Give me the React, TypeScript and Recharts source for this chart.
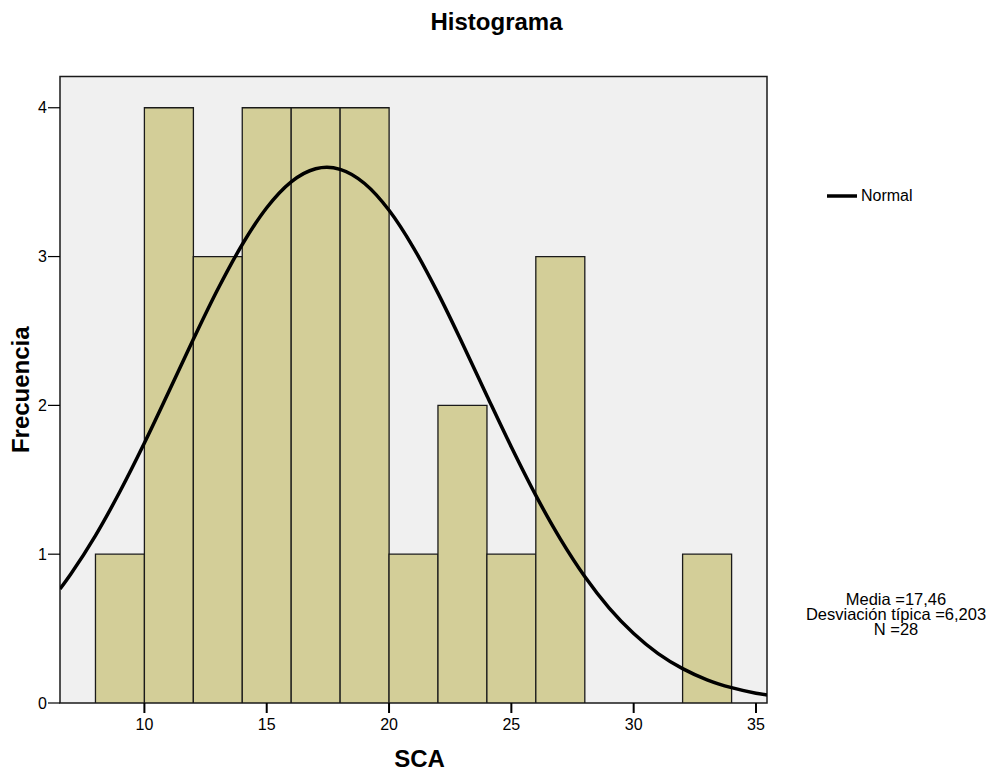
import React from "react";
import {
  ComposedChart,
  Bar,
  Line,
  XAxis,
  YAxis,
  ReferenceArea,
  Legend,
} from "recharts";

// histogram bins (SCA), width 2
const BIN_MIDS = [9, 11, 13, 15, 17, 19, 21, 23, 25, 27, 29, 31, 33];
const COUNTS = [1, 4, 3, 4, 4, 4, 1, 2, 1, 3, 0, 0, 1];

// normal curve
const CURVE_X = [6.55, 7, 8, 9, 10, 11, 12, 13, 14, 15, 16, 17, 17.46, 18, 19, 20, 21, 22, 23, 24, 25, 26, 27, 28, 29, 30, 31, 32, 33, 34, 35, 35.45];
const CURVE_Y = [0.766, 0.869, 1.125, 1.421, 1.747, 2.093, 2.444, 2.78, 3.081, 3.328, 3.502, 3.59, 3.6, 3.586, 3.491, 3.311, 3.059, 2.754, 2.416, 2.065, 1.72, 1.395, 1.103, 0.85, 0.638, 0.467, 0.332, 0.231, 0.156, 0.103, 0.066, 0.054];

const X_TICKS = [10, 15, 20, 25, 30, 35];
const Y_TICKS = [0, 1, 2, 3, 4];
const STATS = ["Media =17,46", "Desviación típica =6,203", "N =28"];

const X_DOMAIN: [number, number] = [6.55, 35.45];
const Y_DOMAIN: [number, number] = [0, 4.21];

const FONT = "'Liberation Sans', Arial, sans-serif";

const bins = BIN_MIDS.map((mid, i) => ({ mid, count: COUNTS[i] }));
const curve = CURVE_X.map((x, i) => ({ x, y: CURVE_Y[i] }));

const renderLegend = () => (
  <div style={{ display: "flex", alignItems: "center", fontFamily: FONT, fontSize: 16, color: "#000" }}>
    <svg width={34} height={6}>
      <line x1={0} y1={3} x2={30} y2={3} stroke="#000" strokeWidth={3.5} />
    </svg>
    <span>Normal</span>
  </div>
);

export default function App() {
  return (
    <div style={{ position: "absolute", left: 0, top: 0, width: 989, height: 771, background: "#fff", fontFamily: FONT }}>
      <div style={{ position: "absolute", left: 0, width: 993, top: 8, textAlign: "center", fontSize: 24, fontWeight: "bold" }}>
        Histograma
      </div>
      <ComposedChart
        width={989}
        height={771}
        data={bins}
        margin={{ top: 76.5, right: 222, bottom: 0, left: 10 }}
        barCategoryGap={0}
        barGap={0}
        style={{ fontFamily: FONT }}
      >
        <ReferenceArea
          x1={X_DOMAIN[0]}
          x2={X_DOMAIN[1]}
          y1={Y_DOMAIN[0]}
          y2={Y_DOMAIN[1]}
          fill="#f0f0f0"
          fillOpacity={1}
          stroke="#1a1a1a"
          strokeWidth={1.5}
        />
        <XAxis
          dataKey="mid"
          type="number"
          domain={X_DOMAIN}
          allowDataOverflow
          ticks={X_TICKS}
          height={68}
          tickSize={10}
          tickMargin={6}
          axisLine={false}
          tickLine={{ stroke: "#000", strokeWidth: 2 }}
          tick={{ fill: "#000", fontSize: 16, fontFamily: FONT }}
          label={{ value: "SCA", position: "insideBottom", offset: 4, dx: 6, fill: "#000", fontSize: 24, fontWeight: "bold", fontFamily: FONT }}
        />
        <XAxis xAxisId="curve" dataKey="x" type="number" domain={X_DOMAIN} allowDataOverflow hide />
        <YAxis
          type="number"
          domain={Y_DOMAIN}
          allowDataOverflow
          ticks={Y_TICKS}
          width={50}
          tickSize={12}
          tickMargin={1}
          axisLine={false}
          tickLine={{ stroke: "#000", strokeWidth: 1.2 }}
          tick={{ fill: "#000", fontSize: 16, fontFamily: FONT }}
          label={{ value: "Frecuencia", angle: -90, position: "center", dx: -15, fill: "#000", fontSize: 24, fontWeight: "bold", fontFamily: FONT }}
        />
        <Bar dataKey="count" fill="#d3ce98" stroke="#1a1a1a" strokeWidth={1.3} isAnimationActive={false} legendType="none" />
        <Line
          xAxisId="curve"
          data={curve}
          dataKey="y"
          name="Normal"
          type="monotone"
          stroke="#000"
          strokeWidth={3.5}
          dot={false}
          activeDot={false}
          isAnimationActive={false}
        />
        <Legend
          layout="vertical"
          align="center"
          verticalAlign="middle"
          content={renderLegend}
          wrapperStyle={{ position: "absolute", left: 827, top: 187, width: 140 }}
        />
      </ComposedChart>
      <div style={{ position: "absolute", left: 796, width: 200, top: 592, textAlign: "center", fontSize: 16.5, lineHeight: "15px" }}>
        {STATS.map((s) => (
          <div key={s}>{s}</div>
        ))}
      </div>
    </div>
  );
}
